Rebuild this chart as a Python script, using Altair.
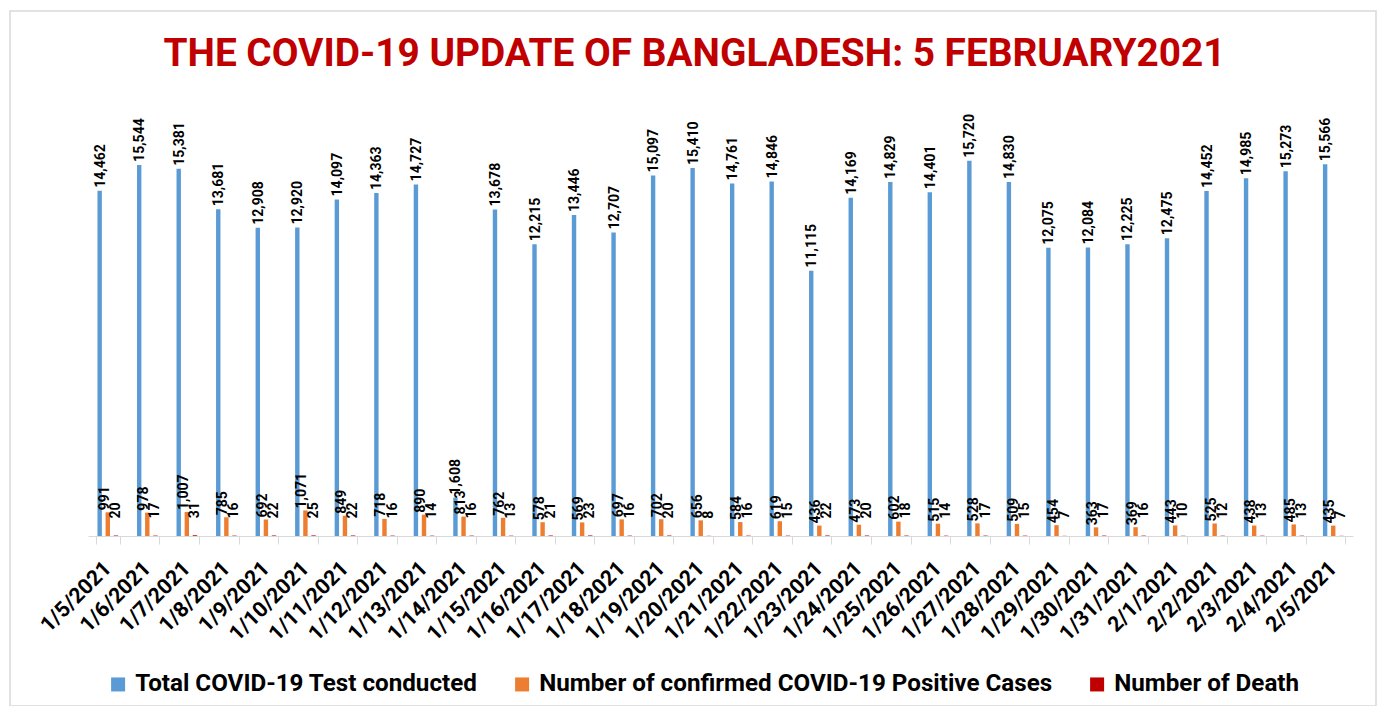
import altair as alt
import pandas as pd

dates = ["1/5/2021", "1/6/2021", "1/7/2021", "1/8/2021", "1/9/2021", "1/10/2021",
         "1/11/2021", "1/12/2021", "1/13/2021", "1/14/2021", "1/15/2021", "1/16/2021",
         "1/17/2021", "1/18/2021", "1/19/2021", "1/20/2021", "1/21/2021", "1/22/2021",
         "1/23/2021", "1/24/2021", "1/25/2021", "1/26/2021", "1/27/2021", "1/28/2021",
         "1/29/2021", "1/30/2021", "1/31/2021", "2/1/2021", "2/2/2021", "2/3/2021",
         "2/4/2021", "2/5/2021"]
tests = [14462, 15544, 15381, 13681, 12908, 12920, 14097, 14363, 14727, 1608,
         13678, 12215, 13446, 12707, 15097, 15410, 14761, 14846, 11115, 14169,
         14829, 14401, 15720, 14830, 12075, 12084, 12225, 12475, 14452, 14985,
         15273, 15566]
positives = [991, 978, 1007, 785, 692, 1071, 849, 718, 890, 813,
             762, 578, 569, 697, 702, 656, 584, 619, 436, 473,
             602, 515, 528, 509, 454, 363, 369, 443, 525, 438,
             485, 435]
deaths = [20, 17, 31, 16, 22, 25, 22, 16, 14, 16,
          13, 21, 23, 16, 20, 8, 16, 15, 22, 20,
          18, 14, 17, 15, 7, 17, 16, 10, 12, 13,
          13, 7]
series_names = ["Total COVID-19 Test conducted",
                "Number of confirmed COVID-19 Positive Cases",
                "Number of Death"]
colors = ["#5b9bd5", "#ed7d31", "#c00000"]
title_text = "THE COVID-19 UPDATE OF BANGLADESH: 5 FEBRUARY2021"

rows = []
for i, d in enumerate(dates):
    for s, vals in zip(series_names, [tests, positives, deaths]):
        rows.append({"date": d, "series": s, "value": vals[i]})
df = pd.DataFrame(rows)

FONT = "Roboto"

xenc = alt.X("date:N", sort=dates,
             scale=alt.Scale(paddingInner=0.385, paddingOuter=0.1925),
             axis=alt.Axis(title=None, labelAngle=-45, labelAlign="right",
                           labelBaseline="middle", labelFont=FONT,
                           labelFontWeight="bold", labelFontSize=21.5,
                           labelColor="black", tickBand="extent",
                           tickColor="#d9d9d9", domainColor="#d9d9d9",
                           tickSize=8, labelPadding=21, labelLimit=0))
xoff = alt.XOffset("series:N", sort=series_names,
                   scale=alt.Scale(domain=series_names, paddingInner=0.457,
                                   paddingOuter=0.2285))
yenc = alt.Y("value:Q", scale=alt.Scale(domain=[0, 16000], nice=False), axis=None)
cenc = alt.Color("series:N", sort=series_names,
                 scale=alt.Scale(domain=series_names, range=colors),
                 legend=alt.Legend(title=None, orient="none", legendX=18, legendY=518,
                                   direction="horizontal", symbolType="square",
                                   symbolSize=196, symbolStrokeWidth=0,
                                   labelFont=FONT, labelFontWeight="bold",
                                   labelFontSize=24.2, labelColor="black",
                                   columnPadding=32, labelOffset=5, labelLimit=0))

bars = alt.Chart(df).mark_bar().encode(x=xenc, xOffset=xoff, y=yenc, color=cenc)


def label_layer(series, dx, dy):
    return alt.Chart(df).transform_filter(alt.datum.series == series).mark_text(
        angle=270, align="left", baseline="middle", dx=dx, dy=dy,
        font=FONT, fontWeight="bold", fontSize=14, color="black"
    ).encode(x=xenc, xOffset=xoff, y=yenc, text=alt.Text("value:Q", format=","))


border = alt.Chart(pd.DataFrame({"a": [0]})).mark_rect(
    fillOpacity=0, stroke="#d9d9d9", strokeWidth=1.5
).encode(x=alt.value(-78), x2=alt.value(1288), y=alt.value(-143), y2=alt.value(552))

chart = alt.layer(
    border,
    bars,
    label_layer(series_names[0], 3, 1),
    label_layer(series_names[1], 2, -3),
    label_layer(series_names[2], 17, 0),
).properties(
    width=1265, height=382,
    background="white",
    autosize=alt.AutoSizeParams(type="none"),
    padding={"left": 80, "top": 146, "right": 25, "bottom": 170},
    title=alt.TitleParams(title_text, font=FONT, fontSize=38.8, fontWeight="bold",
                          color="#c00000", anchor="middle", offset=-64, dx=-26),
).configure_view(stroke=None)

chart.save("out.html", embed_options={"renderer": "svg", "actions": False})
